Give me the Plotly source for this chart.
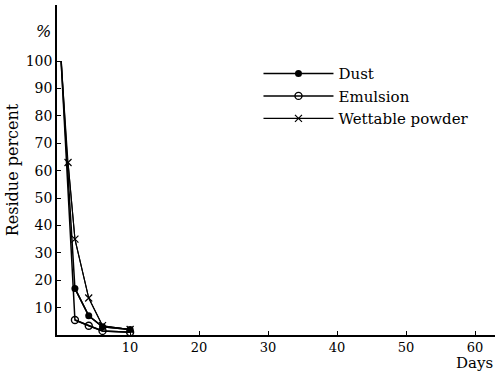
import plotly.graph_objects as go

dust_days = [0, 2, 4, 6, 10]
dust_vals = [100, 17, 7, 3, 2]
emul_days = [0, 2, 4, 6, 10]
emul_vals = [100, 5.5, 3.4, 1.5, 1]
wett_days = [0, 1, 2, 4, 6, 10]
wett_vals = [100, 63, 35, 13.5, 3.4, 2]

x_ticks = [10, 20, 30, 40, 50, 60]
y_ticks = [10, 20, 30, 40, 50, 60, 70, 80, 90, 100]

serif = "DejaVu Serif"

series = [
    ("Dust", dust_days, dust_vals, dict(color="black", width=1.5),
     dict(symbol="circle", size=7, color="black")),
    ("Emulsion", emul_days, emul_vals, dict(color="black", width=1.5),
     dict(symbol="circle-open", size=7, color="black", line=dict(width=1.4))),
    ("Wettable powder", wett_days, wett_vals, dict(color="black", width=1.1),
     dict(symbol="x-thin-open", size=7, color="black", line=dict(width=1.2, color="black"))),
]

fig = go.Figure()
for name, days, vals, line, marker in series:
    # full line (the day-0 starting point has no marker in the original)
    fig.add_trace(go.Scatter(x=days, y=vals, mode="lines", line=line,
                             showlegend=False, legendgroup=name, hoverinfo="skip"))
    pts = [(d, v) for d, v in zip(days, vals) if d != 0]
    fig.add_trace(go.Scatter(x=[p[0] for p in pts], y=[p[1] for p in pts], name=name,
                             mode="lines+markers", line=line, marker=marker, legendgroup=name))

fig.update_layout(
    width=498, height=374,
    margin=dict(l=57, r=3, t=5, b=39),
    paper_bgcolor="white", plot_bgcolor="white",
    font=dict(family=serif, size=14, color="black"),
    showlegend=True,
    legend=dict(x=0.46, y=0.842, xanchor="left", yanchor="top",
                font=dict(family=serif, size=15, color="black"),
                bgcolor="rgba(0,0,0,0)", itemwidth=70, tracegroupgap=0),
    xaxis=dict(range=[-0.6, 62.9], tickvals=x_ticks, ticktext=[str(v) for v in x_ticks],
               showgrid=False, zeroline=False, showline=True, linecolor="black", linewidth=1.5,
               ticks="inside", ticklen=4, tickcolor="black",
               tickfont=dict(family=serif, size=13, color="black")),
    yaxis=dict(range=[0, 120.5], tickvals=y_ticks, ticktext=[str(v) for v in y_ticks],
               showgrid=False, zeroline=False, showline=True, linecolor="black", linewidth=1.5,
               ticks="inside", ticklen=4, tickcolor="black",
               tickfont=dict(family=serif, size=14, color="black"),
               title=dict(text="Residue percent", font=dict(family=serif, size=16), standoff=3)),
    annotations=[
        dict(text="Days", xref="paper", yref="paper", x=1.0, y=-0.118, xanchor="right", yanchor="bottom",
             showarrow=False, font=dict(family=serif, size=15, color="black")),
        dict(text="<i>%</i>", xref="paper", yref="paper", x=-0.01, y=0.92, xanchor="right", yanchor="middle",
             showarrow=False, font=dict(family=serif, size=16, color="black")),
    ],
)

fig.write_html("out.html")
